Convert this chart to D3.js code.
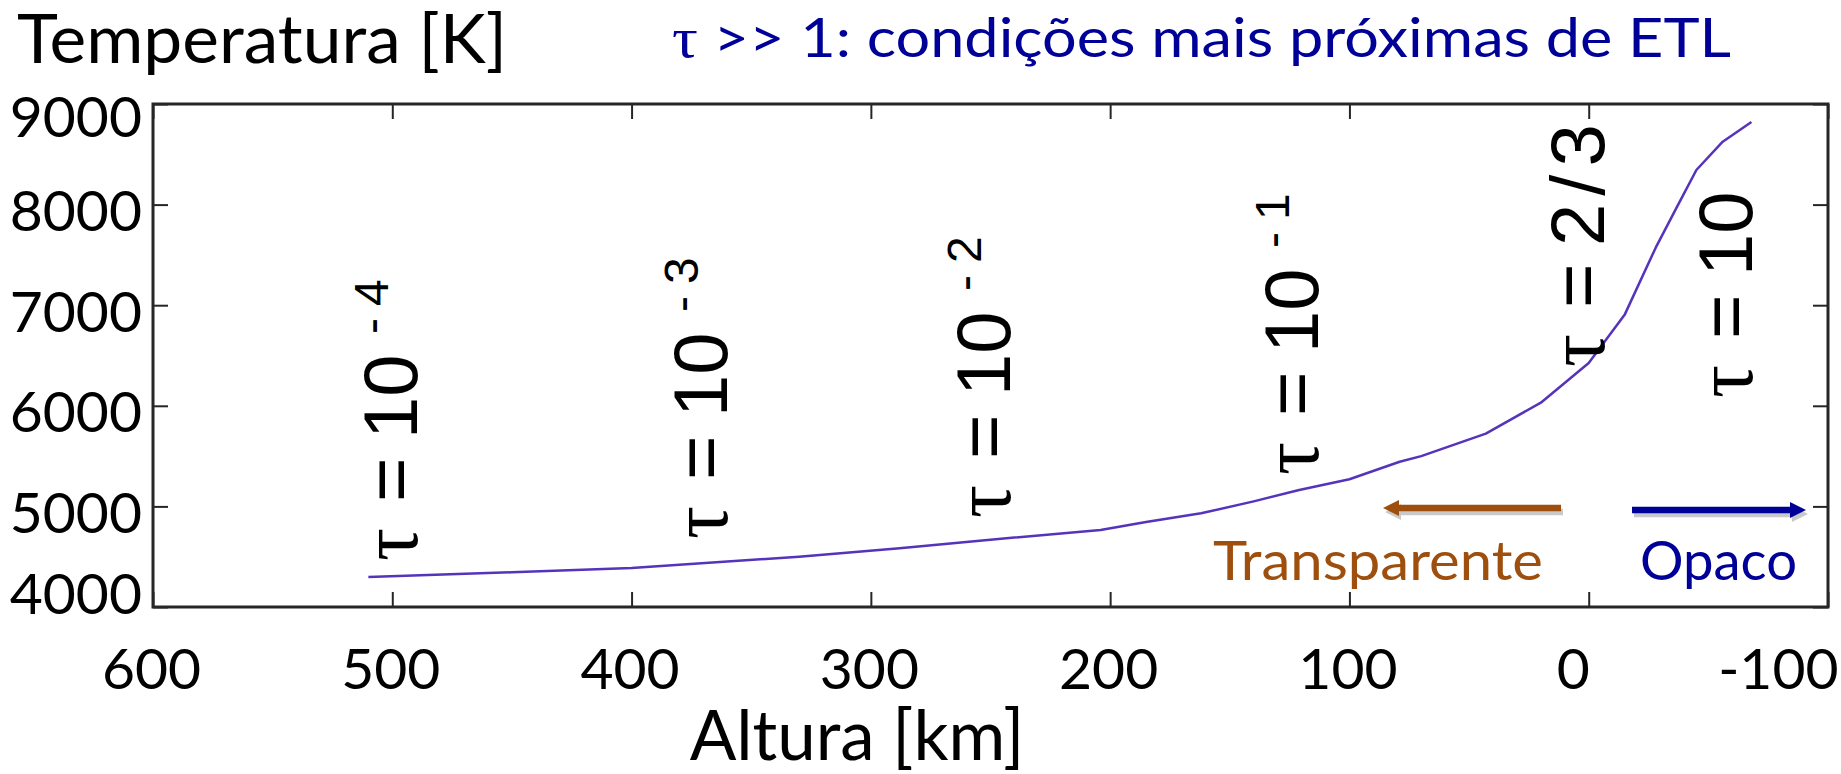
<!DOCTYPE html>
<html>
<head>
<meta charset="utf-8">
<script src="https://cdn.jsdelivr.net/npm/d3@7"></script>
<style>
  html, body { margin: 0; padding: 0; background: #fff; }
  svg { display: block; }
</style>
</head>
<body>
<svg id="chart" width="1841" height="774"></svg>
<script>
// Temperature profile (height in km, temperature in K)
const heightKm = [510, 450, 400, 330, 288, 259, 240, 204, 185, 162, 140, 121, 100, 79, 70, 43, 20, 0, -15, -28, -37, -45, -56, -68]
const tempK = [4298, 4345, 4388, 4500, 4585, 4649, 4690, 4765, 4845, 4931, 5050, 5163, 5270, 5444, 5500, 5723, 6031, 6425, 6904, 7572, 7983, 8344, 8625, 8821]

const xTicks = [600, 500, 400, 300, 200, 100, 0, -100]
const yTicks = [4000, 5000, 6000, 7000, 8000, 9000]

// optical depth labels: value, exponent, anchor (km, K)
const tauText = ['10', '10', '10', '10', '2/3', '10']
const tauExp = ['4', '3', '2', '1', '', '']
const tauKm = [489.7, 360.1, 241.9, 113.2, -6.3, -68.2]
const tauK = [4467, 4686, 4895, 5322, 6396, 6087]

const width = 1841
const height = 774
const margin = { top: 104, right: 13, bottom: 167, left: 153 }

const svg = d3.select('#chart')

const x = d3.scaleLinear()
  .domain([600, -100])
  .range([margin.left, width - margin.right])

const y = d3.scaleLinear()
  .domain([4000, 9000])
  .range([height - margin.bottom, margin.top])

const axisColor = '#262626'
const tickFont = 'Lato, "Open Sans", sans-serif'
const sansFont = '"Liberation Sans", Arial, sans-serif'
const serifFont = '"Liberation Serif", "DejaVu Serif", serif'

// y axis (inward ticks)
const yAxis = svg.append('g')
  .attr('transform', `translate(${margin.left},0)`)
  .call(d3.axisLeft(y).tickValues(yTicks).tickFormat(d => String(d))
    .tickSize(-15).tickSizeOuter(0).tickPadding(11))
yAxis.select('.domain').remove()
yAxis.selectAll('line').attr('stroke', axisColor).attr('stroke-width', 2)
yAxis.selectAll('text')
  .attr('font-family', tickFont)
  .attr('font-size', 57)
  .attr('fill', '#000')
  .attr('dy', d => d === 4000 ? '6' : d === 9000 ? '32' : '26')

// right ticks
const yRight = svg.append('g')
  .attr('transform', `translate(${width - margin.right},0)`)
  .call(d3.axisRight(y).tickValues(yTicks).tickFormat('').tickSize(-15).tickSizeOuter(0))
yRight.select('.domain').remove()
yRight.selectAll('line').attr('stroke', axisColor).attr('stroke-width', 2)

// x axis
const xAxis = svg.append('g')
  .attr('transform', `translate(0,${height - margin.bottom})`)
  .call(d3.axisBottom(x).tickValues(xTicks).tickFormat(d => String(d))
    .tickSize(-15).tickSizeOuter(0).tickPadding(82))
xAxis.select('.domain').remove()
xAxis.selectAll('line').attr('stroke', axisColor).attr('stroke-width', 2)
xAxis.selectAll('text')
  .attr('font-family', tickFont)
  .attr('font-size', 57)
  .attr('fill', '#000')
  .attr('dy', 0)
  .attr('text-anchor', d => d === -100 ? 'end' : 'middle')
  .attr('dx', d => d === -100 ? 10 : d === 0 ? -16 : -2)

// top ticks
const xTop = svg.append('g')
  .attr('transform', `translate(0,${margin.top})`)
  .call(d3.axisTop(x).tickValues(xTicks).tickFormat('').tickSize(-15).tickSizeOuter(0))
xTop.select('.domain').remove()
xTop.selectAll('line').attr('stroke', axisColor).attr('stroke-width', 2)

// frame
svg.append('rect')
  .attr('x', x(600))
  .attr('y', y(9000))
  .attr('width', x(-100) - x(600))
  .attr('height', y(4000) - y(9000))
  .attr('fill', 'none')
  .attr('stroke', axisColor)
  .attr('stroke-width', 3)

// curve
const line = d3.line()
  .x(d => x(d[0]))
  .y(d => y(d[1]))

svg.append('path')
  .datum(d3.zip(heightKm, tempK))
  .attr('fill', 'none')
  .attr('stroke', '#5533bb')
  .attr('stroke-width', 2.5)
  .attr('stroke-linejoin', 'round')
  .attr('d', line)

// tau labels, rotated, each part placed along the text direction
tauText.forEach((txt, i) => {
  const g = svg.append('g')
    .attr('transform', `translate(${x(tauKm[i])},${y(tauK[i])}) rotate(-90)`)
  const t = g.append('text')
    .attr('font-family', sansFont)
    .attr('font-size', 76)
    .attr('fill', '#000')
  t.append('tspan')
    .attr('x', -1)
    .attr('font-family', serifFont)
    .attr('font-size', 82)
    .text('τ')
  t.append('tspan').attr('x', 58).text('=')
  t.append('tspan')
    .attr('x', txt === '10' ? 121 : 120)
    .attr('letter-spacing', txt === '10' ? 0 : 8)
    .text(txt)
  if (tauExp[i]) {
    g.append('text')
      .attr('font-family', sansFont)
      .attr('font-size', 48)
      .attr('y', -29)
      .selectAll('tspan')
      .data([['-', 226], [tauExp[i], 254]])
      .join('tspan')
      .attr('x', d => d[1])
      .text(d => d[0])
  }
})

// axis titles
svg.append('text')
  .attr('x', 17)
  .attr('y', 63)
  .attr('font-family', tickFont)
  .attr('font-size', 67)
  .attr('textLength', 490)
  .attr('lengthAdjust', 'spacingAndGlyphs')
  .text('Temperatura [K]')

svg.append('text')
  .attr('x', 857)
  .attr('y', 760)
  .attr('text-anchor', 'middle')
  .attr('font-family', tickFont)
  .attr('font-size', 69)
  .text('Altura [km]')

// header note
const note = svg.append('text')
  .attr('x', 672)
  .attr('y', 57)
  .attr('font-family', tickFont)
  .attr('font-size', 55)
  .attr('fill', '#000099')
  .attr('textLength', 1059)
  .attr('lengthAdjust', 'spacingAndGlyphs')
note.append('tspan')
  .attr('font-family', serifFont)
  .attr('font-size', 58)
  .text('τ')
note.append('tspan').text(' >> 1: condições mais próximas de ETL')

// arrows with soft shadow
const defs = svg.append('defs')
function arrowHead (id, color) {
  defs.append('marker')
    .attr('id', id)
    .attr('viewBox', '0 0 10 10')
    .attr('refX', 2)
    .attr('refY', 5)
    .attr('markerWidth', 2.5)
    .attr('markerHeight', 2.7)
    .attr('markerUnits', 'strokeWidth')
    .attr('orient', 'auto')
    .append('path')
    .attr('d', 'M0,0 L10,5 L0,10 Z')
    .attr('fill', color)
}
arrowHead('head-brown', '#9e4f0e')
arrowHead('head-blue', '#000099')
arrowHead('head-shadow', '#c9c9c9')

const arrows = [
  { from: 1561, to: 1396, y: 508, color: '#9e4f0e', head: 'head-brown' },
  { from: 1632, to: 1793, y: 510, color: '#000099', head: 'head-blue' }
]
arrows.forEach(a => {
  svg.append('line')
    .attr('x1', a.from + 2).attr('x2', a.to + 2)
    .attr('y1', a.y + 4).attr('y2', a.y + 4)
    .attr('stroke', '#c9c9c9')
    .attr('stroke-width', 6.5)
    .attr('marker-end', 'url(#head-shadow)')
  svg.append('line')
    .attr('x1', a.from).attr('x2', a.to)
    .attr('y1', a.y).attr('y2', a.y)
    .attr('stroke', a.color)
    .attr('stroke-width', 6.5)
    .attr('marker-end', `url(#${a.head})`)
})

svg.append('text')
  .attr('x', 1213)
  .attr('y', 580)
  .attr('font-family', tickFont)
  .attr('font-size', 55)
  .attr('fill', '#9e4f0e')
  .attr('textLength', 330)
  .attr('lengthAdjust', 'spacingAndGlyphs')
  .text('Transparente')

svg.append('text')
  .attr('x', 1640)
  .attr('y', 580)
  .attr('font-family', tickFont)
  .attr('font-size', 55)
  .attr('fill', '#000099')
  .attr('textLength', 157)
  .attr('lengthAdjust', 'spacingAndGlyphs')
  .text('Opaco')
</script>
</body>
</html>
